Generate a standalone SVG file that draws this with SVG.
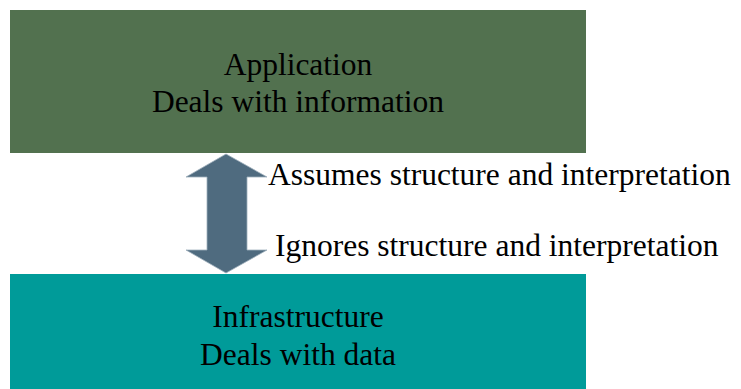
<svg xmlns="http://www.w3.org/2000/svg" width="741" height="389" viewBox="0 0 741 389">
<style>
text{font-family:"Liberation Serif","Times New Roman",serif;font-size:31.5px;fill:#000}
.c{text-anchor:middle}
</style>
<rect width="741" height="389" fill="#fff"/>
<g id="application">
<rect x="10" y="10" width="576" height="143" fill="#52714F"/>
<text class="c" x="298" y="75">Application</text>
<text class="c" x="298" y="112">Deals with information</text>
</g>
<g id="infrastructure">
<rect x="10" y="274" width="576" height="115" fill="#009B99"/>
<text class="c" x="298" y="327">Infrastructure</text>
<text class="c" x="298" y="365">Deals with data</text>
</g>
<g id="connectors">
<polygon points="226,154 267,177 247,177 247,250 267,250 226,273 186,250 207,250 207,177 186,177" fill="#4F6B7F" stroke="#9fb0bd" stroke-width="0.8"/>
<text x="268" y="185">Assumes structure and interpretation</text>
<text x="275" y="256">Ignores structure and interpretation</text>
</g>
</svg>
